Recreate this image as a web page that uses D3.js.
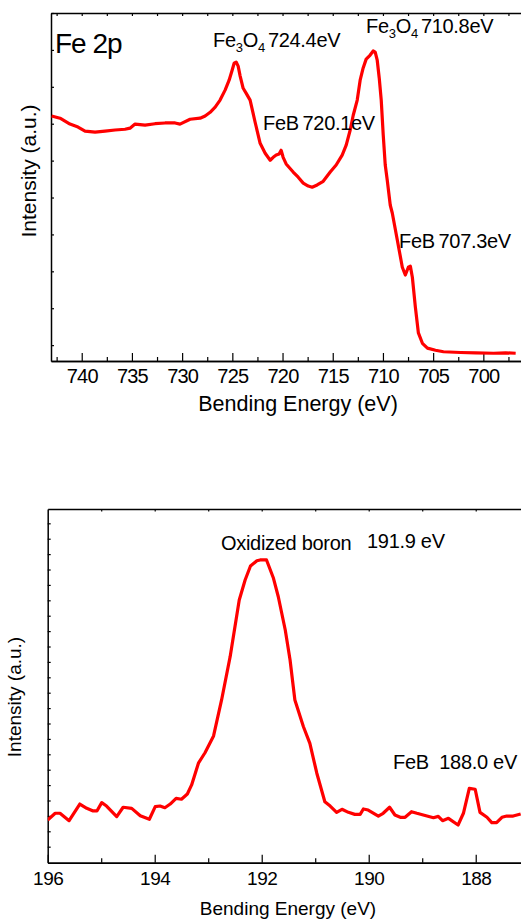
<!DOCTYPE html>
<html><head><meta charset="utf-8">
<script src="https://cdn.jsdelivr.net/npm/d3@7"></script>
<style>
html,body{margin:0;padding:0;background:#fff;}
svg{display:block;font-family:"Liberation Sans",Arial,sans-serif;}
</style></head>
<body>
<svg id="c" width="521" height="921"></svg>
<script>
// ---------- Fe 2p data ----------
const feEnergy = [743.0,742.16,741.17,740.37,739.67,738.67,737.68,736.68,735.69,735.19,734.69,733.69,732.70,731.70,730.70,730.21,729.21,728.21,727.71,727.21,726.71,726.22,725.72,725.32,725.02,724.82,724.62,724.42,724.22,723.92,723.63,723.23,722.73,722.23,721.73,721.23,720.93,720.63,720.34,720.14,719.94,719.64,718.94,718.44,717.94,717.44,717.05,716.55,715.95,715.25,714.66,714.06,713.66,713.26,712.96,712.56,712.27,711.97,711.67,711.27,710.97,710.77,710.57,710.37,710.17,709.97,709.77,709.57,709.27,709.07,708.57,708.07,707.77,707.47,707.27,707.07,706.77,706.47,706.07,705.57,704.77,703.97,702.27,700.77,698.98,697.78,696.78];
const feIntensity = [6.21,6.15,5.99,5.91,5.80,5.77,5.80,5.83,5.85,5.88,5.99,5.96,6.00,6.02,6.02,5.99,6.12,6.15,6.21,6.31,6.45,6.64,6.91,7.18,7.45,7.64,7.67,7.56,7.29,6.96,6.83,6.64,6.04,5.47,5.20,5.01,5.09,5.15,5.18,5.28,5.09,4.91,4.69,4.55,4.39,4.31,4.28,4.34,4.44,4.69,4.88,5.15,5.42,5.83,6.23,6.64,7.18,7.51,7.75,7.86,7.97,7.94,7.72,7.24,6.64,5.69,4.88,4.47,3.79,3.58,2.85,2.11,1.90,2.11,2.14,1.84,1.03,0.33,0.05,-0.08,-0.14,-0.18,-0.20,-0.21,-0.22,-0.21,-0.22];
const feMajorTicks = [740,735,730,725,720,715,710,705,700];
const feMinorTicks = [742.5,737.5,732.5,727.5,722.5,717.5,712.5,707.5,702.5,697.5];
const feTopTicks = [742.5,740,737.5,735,732.5,730,727.5,725,722.5,720,717.5,715,712.5,710,707.5,705,702.5,700,697.5];
const feLeftTicks = [0,1,2,3,4,5,6,7,8,9];

// ---------- B 1s data ----------
const bEnergy = [196.00,195.86,195.77,195.60,195.40,195.27,195.15,195.08,194.99,194.90,194.71,194.59,194.43,194.27,194.10,193.99,193.90,193.81,193.71,193.60,193.50,193.39,193.31,193.18,193.06,192.90,192.75,192.59,192.42,192.31,192.21,192.09,192.03,191.91,191.78,191.69,191.56,191.47,191.41,191.38,191.22,191.10,190.97,190.82,190.72,190.60,190.50,190.38,190.26,190.16,190.10,190.01,189.82,189.73,189.61,189.51,189.41,189.32,189.20,189.10,188.98,188.79,188.70,188.62,188.51,188.33,188.23,188.12,188.01,187.92,187.79,187.70,187.61,187.51,187.42,187.30,187.16];
const bIntensity = [1.73,2.17,2.17,1.69,2.77,2.49,2.32,2.32,2.86,2.64,1.95,2.56,2.49,2.01,1.78,2.60,2.64,2.53,2.77,3.14,3.08,3.42,4.01,5.45,6.10,7.19,9.53,12.34,16.02,17.32,18.23,18.57,18.62,18.62,17.43,16.23,14.07,12.12,10.39,9.53,7.79,6.71,4.77,2.92,2.64,2.23,2.43,2.23,2.10,2.10,2.45,2.38,1.99,2.17,2.56,2.06,1.91,1.91,2.27,2.17,2.06,1.88,1.97,1.69,1.84,1.41,2.17,3.79,3.73,2.23,1.91,1.56,1.56,1.91,1.99,1.99,2.12];
const bMajorTicks = [196,194,192,190,188];
const bMinorTicks = [195,193,191,189,187];
const bTopTicks = [195,194,193,192,191,190,189,188,187];
const bLeftTicks = d3.range(0,22);

const svg = d3.select("#c");
const FONT = '"Liberation Sans",Arial,sans-serif';

function styleAxis(g){
  g.attr("font-family", FONT);
  g.selectAll(".domain").attr("stroke","#000").attr("stroke-width",1.5);
  g.selectAll(".tick line").attr("stroke","#000").attr("stroke-width",1.2);
}

// ================= TOP PLOT =================
const x1 = d3.scaleLinear().domain([743.06, 696.2]).range([51, 521.5]);
const y1 = d3.scaleLinear().domain([-0.43, 9.0]).range([361, 13]);

// left axis
svg.append("g").attr("transform","translate(51,0)")
  .call(d3.axisLeft(y1).tickValues(feLeftTicks).tickSizeInner(-3).tickSizeOuter(0).tickFormat(""))
  .call(styleAxis);
// top axis
svg.append("g").attr("transform","translate(0,13)")
  .call(d3.axisTop(x1).tickValues(feTopTicks).tickSizeInner(-3).tickSizeOuter(0).tickFormat(""))
  .call(styleAxis);
// bottom minor
svg.append("g").attr("transform","translate(0,361)")
  .call(d3.axisBottom(x1).tickValues(feMinorTicks).tickSizeInner(-4).tickSizeOuter(0).tickFormat(""))
  .call(styleAxis);
// bottom major
const gx1 = svg.append("g").attr("transform","translate(0,361)")
  .call(d3.axisBottom(x1).tickValues(feMajorTicks).tickSizeInner(-8).tickSizeOuter(0).tickPadding(0).tickFormat(d3.format("d")))
  .call(styleAxis);
gx1.selectAll(".tick text").attr("y",22).attr("dy",0).attr("font-size","20px").attr("letter-spacing","-0.8px").attr("fill","#000");

svg.append("clipPath").attr("id","clip1").append("rect").attr("x",51).attr("y",13).attr("width",472).attr("height",348);
svg.append("path").datum(feEnergy.map((e,i)=>[e,feIntensity[i]]))
  .attr("clip-path","url(#clip1)")
  .attr("fill","none").attr("stroke","#ff0000").attr("stroke-width",3.2).attr("stroke-linejoin","round")
  .attr("d", d3.line().x(d=>x1(d[0])).y(d=>y1(d[1])));

svg.append("text").attr("x",298).attr("y",410.5).attr("text-anchor","middle")
  .attr("font-size","21.5px").attr("font-family",FONT).text("Bending Energy (eV)");
svg.append("text").attr("transform","translate(28,171) rotate(-90)").attr("text-anchor","middle")
  .attr("dominant-baseline","central").attr("font-size","21px").attr("font-family",FONT).text("Intensity (a.u.)");

svg.append("text").attr("x",55).attr("y",53).attr("font-size","28px").attr("letter-spacing","-1px").attr("font-family",FONT).text("Fe 2p");

function fe3o4(x, y, val){
  const t = svg.append("text").attr("x",x).attr("y",y).attr("font-size","20px").attr("font-family",FONT).attr("letter-spacing","-0.3px");
  t.append("tspan").text("Fe");
  t.append("tspan").attr("font-size","13px").attr("dy",5).text("3");
  t.append("tspan").attr("dy",-5).text("O");
  t.append("tspan").attr("font-size","13px").attr("dy",5).text("4");
  t.append("tspan").attr("dy",-5).attr("dx",3).text(val);
}
fe3o4(213, 47, "724.4eV");
fe3o4(366, 33, "710.8eV");
svg.append("text").attr("x",263).attr("y",130).attr("font-size","20px").attr("letter-spacing","-0.3px").attr("font-family",FONT).text("FeB\u2009720.1eV");
svg.append("text").attr("x",399).attr("y",248).attr("font-size","20px").attr("letter-spacing","-0.3px").attr("font-family",FONT).text("FeB\u2009707.3eV");

// ================= BOTTOM PLOT =================
const x2 = d3.scaleLinear().domain([196, 187.15]).range([47.7, 521.2]);
const y2 = d3.scaleLinear().domain([-1.04, 21.93]).range([862.7, 509]);

svg.append("g").attr("transform","translate(47.7,0)")
  .call(d3.axisLeft(y2).tickValues(bLeftTicks).tickSizeInner(-3).tickSizeOuter(0).tickFormat(""))
  .call(styleAxis);
svg.append("g").attr("transform","translate(0,509)")
  .call(d3.axisTop(x2).tickValues(bTopTicks).tickSizeInner(-2.5).tickSizeOuter(0).tickFormat(""))
  .call(styleAxis);
svg.append("g").attr("transform","translate(0,862.7)")
  .call(d3.axisBottom(x2).tickValues(bMinorTicks).tickSizeInner(-4.5).tickSizeOuter(0).tickFormat(""))
  .call(styleAxis);
const gx2 = svg.append("g").attr("transform","translate(0,862.7)")
  .call(d3.axisBottom(x2).tickValues(bMajorTicks).tickSizeInner(-8).tickSizeOuter(0).tickPadding(0).tickFormat(d3.format("d")))
  .call(styleAxis);
gx2.selectAll(".tick text").attr("y",22.5).attr("dy",0).attr("font-size","19px").attr("letter-spacing","-0.5px").attr("fill","#000");

svg.append("clipPath").attr("id","clip2").append("rect").attr("x",47.7).attr("y",509).attr("width",475).attr("height",354);
svg.append("path").datum(bEnergy.map((e,i)=>[e,bIntensity[i]]))
  .attr("clip-path","url(#clip2)")
  .attr("fill","none").attr("stroke","#ff0000").attr("stroke-width",3.2).attr("stroke-linejoin","round")
  .attr("d", d3.line().x(d=>x2(d[0])).y(d=>y2(d[1])));

svg.append("text").attr("x",288).attr("y",915).attr("text-anchor","middle")
  .attr("font-size","19px").attr("font-family",FONT).text("Bending Energy (eV)");
svg.append("text").attr("transform","translate(14,697) rotate(-90)").attr("text-anchor","middle")
  .attr("dominant-baseline","central").attr("font-size","19px").attr("font-family",FONT).text("Intensity (a.u.)");

svg.append("text").attr("x",221).attr("y",549.5).attr("font-size","20px").attr("letter-spacing","-0.3px").attr("font-family",FONT).text("Oxidized boron");
svg.append("text").attr("x",367).attr("y",547.5).attr("font-size","20px").attr("letter-spacing","-0.3px").attr("font-family",FONT).text("191.9 eV");
svg.append("text").attr("x",393).attr("y",768.5).attr("font-size","20px").attr("letter-spacing","-0.3px").attr("font-family",FONT).attr("xml:space","preserve").style("white-space","pre").text("FeB  188.0 eV");
</script>
</body></html>
